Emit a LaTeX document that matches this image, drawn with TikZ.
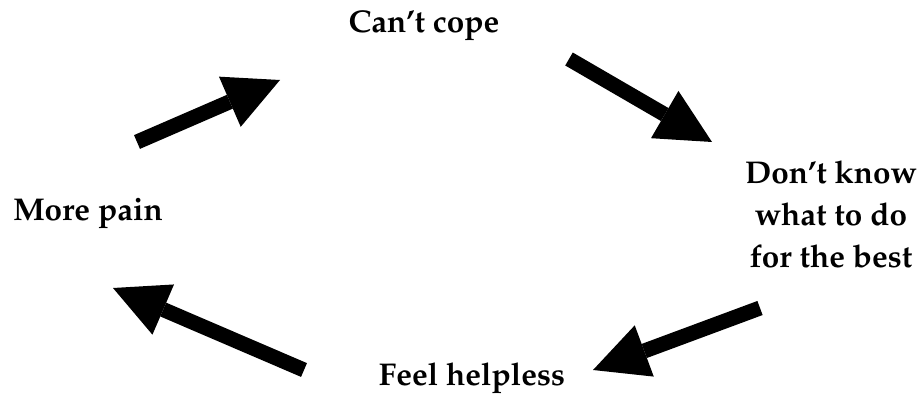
\documentclass[tikz,border=0pt]{standalone}
\usepackage[T1]{fontenc}
\usepackage{mathpazo}
\usepackage{tikz}
\usetikzlibrary{arrows.meta}

\begin{document}
\begin{tikzpicture}[
      x=0.75pt, y=-0.75pt,
      lbl/.style={font=\fontsize{23.6}{31.5}\selectfont\bfseries, inner sep=0pt, align=center},
      arr/.style={line width=11.25pt, -{Triangle[length=41pt, width=41pt, line width=0pt]}}]
    \useasboundingbox (0,0) rectangle (923,395);
    \node[lbl, anchor=base] (cope) at (424,33) {Can't cope};
    \node[lbl] (best) at (831,214) {Don't know\\ what to do\\ for the best};
    \node[lbl, anchor=base] (helpless) at (472,385) {Feel helpless};
    \node[lbl, anchor=base] (pain) at (88,220) {More pain};
    \coordinate (painOut) at (137,142);
    \coordinate (copeIn) at (280,80);
    \coordinate (copeOut) at (569,59);
    \coordinate (bestIn) at (712,142);
    \coordinate (bestOut) at (760,308);
    \coordinate (helplessIn) at (593,370);
    \coordinate (helplessOut) at (304,370);
    \coordinate (painIn) at (113,288);
    \draw[arr] (painOut) -- (copeIn);
    \draw[arr] (copeOut) -- (bestIn);
    \draw[arr] (bestOut) -- (helplessIn);
    \draw[arr] (helplessOut) -- (painIn);
  \end{tikzpicture}
\end{document}
